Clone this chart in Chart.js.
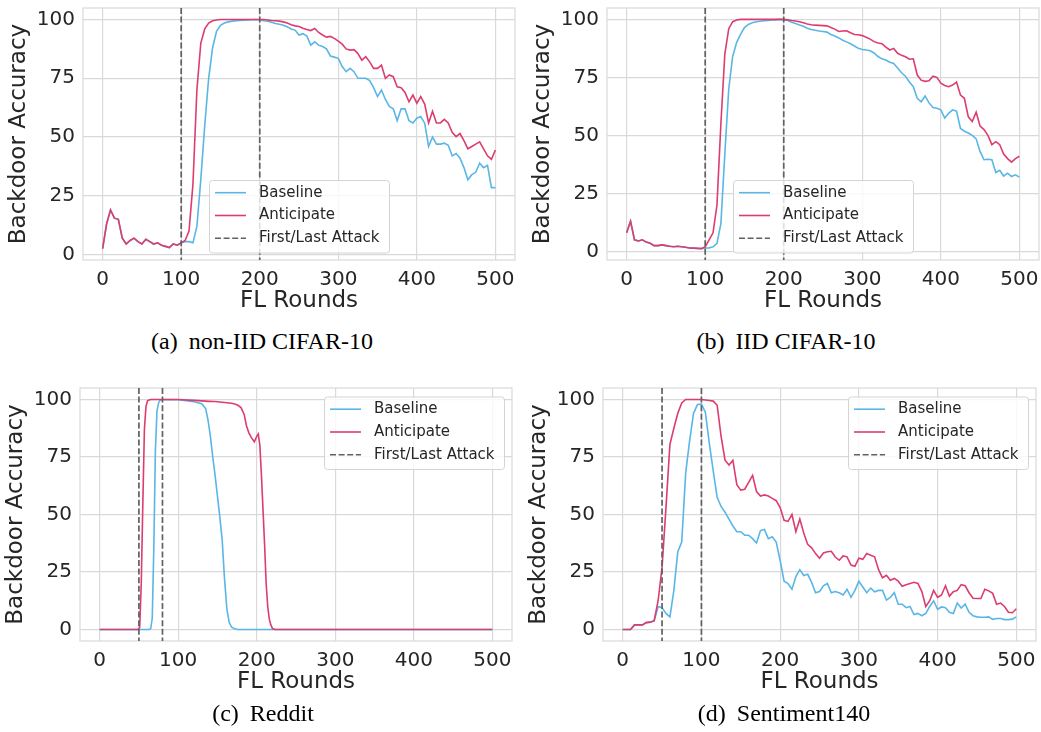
<!DOCTYPE html>
<html>
<head>
<meta charset="utf-8">
<script src="https://cdn.jsdelivr.net/npm/chart.js@4.4.1/dist/chart.umd.min.js"></script>
<style>
  body { margin: 0; background: #fff; }
  #wrap { position: relative; width: 1041px; height: 732px; }
  canvas { position: absolute; }
  .cap { position: absolute; width: 520px; text-align: center; font-family: 'Liberation Serif', serif;
         font-size: 24px; line-height: 24px; color: #000; }
  .cap span { margin-left: 11px; }
</style>
</head>
<body>
<div id="wrap">
  <canvas id="chartA" width="520" height="320" style="left:0;top:0;width:520px;height:320px"></canvas>
  <canvas id="chartB" width="521" height="320" style="left:520px;top:0;width:521px;height:320px"></canvas>
  <canvas id="chartC" width="520" height="331" style="left:0;top:370px;width:520px;height:331px"></canvas>
  <canvas id="chartD" width="521" height="331" style="left:520px;top:370px;width:521px;height:331px"></canvas>
  <div class="cap" style="left:2px;top:329px">(a)<span>non-IID CIFAR-10</span></div>
  <div class="cap" style="left:526px;top:329px">(b)<span>IID CIFAR-10</span></div>
  <div class="cap" style="left:3px;top:701px">(c)<span>Reddit</span></div>
  <div class="cap" style="left:524px;top:701px">(d)<span>Sentiment140</span></div>
</div>
<script>
// ---- data ----
var seriesNames = ['Baseline', 'Anticipate'];
var attackLabel = 'First/Last Attack';
var xTicks = [0, 100, 200, 300, 400, 500];
var yTicks = [0, 25, 50, 75, 100];

var rounds = [0, 5, 10, 15, 20, 25, 30, 35, 40, 45, 50, 55, 60, 65, 70, 75, 80, 85, 90, 95,
  100, 105, 110, 115, 120, 125, 130, 135, 140, 145, 150, 155, 160, 165, 170, 175, 180, 185, 190, 195,
  200, 205, 210, 215, 220, 225, 230, 235, 240, 245, 250, 255, 260, 265, 270, 275, 280, 285, 290, 295,
  300, 305, 310, 315, 320, 325, 330, 335, 340, 345, 350, 355, 360, 365, 370, 375, 380, 385, 390, 395,
  400, 405, 410, 415, 420, 425, 430, 435, 440, 445, 450, 455, 460, 465, 470, 475, 480, 485, 490, 495,
  500];

// (a) non-IID CIFAR-10
var nonIidBaseline = [2.5, 13, 19, 15.5, 15, 7, 4.5, 6, 7, 5.5, 4.5, 6.5, 5.5, 4.5, 5, 4, 3.5, 3, 4.5, 4,
  5, 5.5, 5.5, 5, 12, 32, 55, 75, 88, 95, 97.5, 98.5, 99, 99.3, 99.5, 99.6, 99.7, 99.8, 99.9, 100,
  99.8, 99.5, 99.3, 98.8, 98.3, 98, 97.6, 96.9, 96, 95.5, 93.4, 94, 93, 89.1, 90.5, 89.1, 88.5, 87.5, 84.5, 84,
  83.5, 80, 77.8, 79.2, 77.8, 75, 75, 75, 74, 71, 67.2, 70, 66, 63, 62, 57, 62, 62, 57, 56,
  58, 58.7, 55.9, 46, 50, 47, 47, 47.4, 46.5, 42, 43, 41, 37, 31.8, 34, 35, 38.9, 37, 38, 28.5,
  28.5];
var nonIidAnticipate = [2.5, 13, 19, 15.5, 15, 7, 4.5, 6, 7, 5.5, 4.5, 6.5, 5.5, 4.5, 5, 4, 3.5, 3, 4.5, 4,
  5, 6, 10, 30, 70, 90, 96, 98.5, 99.5, 99.8, 100, 100, 100, 100, 100, 100, 100, 100, 100, 100,
  100, 100, 99.8, 99.6, 99.5, 99.3, 99, 98.5, 97.8, 97.3, 97, 96.3, 95.8, 95.3, 96.2, 94.5, 93.4, 92.5, 92.8, 92,
  90.8, 89.5, 87.5, 87, 87.2, 85.5, 82.7, 84.2, 82, 79.2, 79.2, 80.6, 75, 76.4, 75.7, 71.4, 71, 69, 65, 67.9,
  64.4, 67.2, 64, 56, 61, 56, 56, 57.5, 56, 52, 50.2, 51.5, 48.5, 45, 46, 47, 48, 45, 42, 40.5,
  44.5];

// (b) IID CIFAR-10
var iidBaseline = [8, 13, 5, 4.5, 5, 4, 3.5, 2.5, 2.5, 2.8, 2.5, 2.2, 2, 2.2, 2, 1.8, 1.5, 1.4, 1.3, 1.2,
  1.5, 1.5, 2, 3.5, 12, 42, 70, 84, 90, 93.5, 96.5, 97.8, 98.5, 99, 99.2, 99.4, 99.5, 99.7, 99.8, 100,
  99.8, 99.5, 98.8, 98.2, 97.6, 97, 96.2, 95.6, 95.3, 95, 94.8, 94.5, 93.5, 92.8, 92, 91, 90.3, 89.5, 88.5, 87.5,
  87, 86.8, 86.5, 85.5, 84, 83, 82.5, 81.5, 81, 79, 77, 75.5, 73, 71, 66, 64.5, 67, 64, 62, 61.7,
  61, 57.5, 59.5, 61, 60.5, 53, 51.8, 51, 50, 48.5, 43, 39.5, 39.7, 39.5, 34, 35, 32.5, 33.7, 32.3, 33,
  32];
var iidAnticipate = [8, 13, 5, 4.5, 5, 4, 3.5, 2.5, 2.5, 2.8, 2.5, 2.2, 2, 2.2, 2, 1.8, 1.5, 1.4, 1.3, 1.2,
  2, 5, 8, 20, 55, 85, 96, 99, 99.7, 100, 100, 100, 100, 100, 100, 100, 100, 100, 100, 100,
  100, 99.8, 99.5, 99.3, 99, 98.5, 98, 97.7, 97.5, 97.4, 97.3, 97.2, 96.5, 95.8, 94.8, 95, 95.1, 94.2, 93.5, 93.4,
  93, 92.3, 91.5, 90.4, 89.8, 89.5, 88, 86.8, 87.5, 85.4, 84.5, 83.9, 82.8, 83, 76, 73.8, 73.3, 73.5, 75.5, 75,
  72.5, 71.5, 71, 71.7, 73, 67.4, 66, 58, 56, 60, 54, 52.5, 50, 46, 47.3, 46, 42, 40, 38.5, 40,
  41];

// (c) Reddit
var redditRounds = [0, 49, 51, 53, 55, 57, 59, 61, 63, 65, 67, 69, 71, 73, 75, 77, 80, 100, 120, 130,
  135, 138, 141, 144, 147, 150, 153, 156, 159, 162, 165, 168, 172, 176, 180, 184, 187, 190, 193, 197,
  200, 202, 204, 206, 208, 210, 212, 214, 216, 218, 220, 223, 300, 400, 500];
var redditBaseline = [0, 0, 0, 0, 0, 0, 0, 0, 0, 0.3, 5, 36, 78, 95, 98.5, 99.7, 100, 99.9, 99, 98.2,
  96, 91, 84, 75, 67, 58, 49, 39, 22, 9, 3, 1, 0.3, 0, 0, 0, 0, 0, 0, 0,
  0, 0, 0, 0, 0, 0, 0, 0, 0, 0, 0, 0, 0, 0, 0];
var redditAnticipate = [0, 0, 1, 20, 55, 87, 97, 99.4, 99.8, 100, 100, 100, 100, 100, 100, 100, 100, 100, 99.6, 99.4,
  99.3, 99.2, 99.2, 99.1, 99.1, 99, 98.9, 98.8, 98.7, 98.6, 98.5, 98.4, 98, 97.5, 96.5, 93.5, 88.5, 85.5, 83.5, 81.6,
  84, 85, 80, 67, 52, 37, 20, 10, 4.5, 2, 0.5, 0, 0, 0, 0];

// (d) Sentiment140
var sentBaseline = [0, 0, 0, 2, 2, 2, 3, 3.2, 3.8, 10, 9.5, 7, 5.5, 17, 33.8, 38, 68, 82, 94, 97.8,
  98, 94.5, 81, 69, 57.5, 53.5, 51, 48, 45, 42.5, 42.5, 41, 41, 39.5, 37.6, 43, 43.5, 39.5, 40.3, 38,
  30, 21, 20, 17.5, 23, 26, 23.5, 24, 20.5, 16, 16.5, 19, 20, 16, 16.5, 16, 15, 17.5, 14, 17,
  21, 18.5, 16, 18, 16.4, 17, 17, 12.8, 14, 16, 11, 11, 9.5, 10, 6.5, 7, 6, 7, 10, 12.5,
  8.8, 9.8, 9.5, 7.5, 7, 11.5, 9.3, 11, 7.5, 6, 5.5, 5.3, 5.3, 5.5, 4.4, 4.8, 4.8, 4.3, 4.3, 4.5,
  5.5];
var sentAnticipate = [0, 0, 0, 2, 2, 2, 3, 3.2, 3.8, 12.5, 27, 53, 80.5, 87.5, 94, 98.5, 100, 100, 100, 100,
  100, 99.8, 99.6, 99.3, 97.5, 84, 73.6, 71.5, 73.5, 63, 60.6, 61, 64, 67, 60, 58, 58.5, 58, 57, 56,
  53, 47.5, 47, 50, 42.5, 48, 42, 37, 35.5, 33, 31, 33.3, 33.8, 34, 31.5, 30.1, 32, 31.6, 28, 27.5,
  31, 30.5, 33, 32.3, 31.6, 26, 22.5, 23.6, 21.4, 22.2, 21, 18.8, 19.5, 20, 20.5, 20, 16.5, 10, 12.5, 17,
  14, 15, 19, 14.5, 16.4, 17, 19.5, 19, 16, 13.6, 13.5, 13.5, 17.5, 16.8, 15.7, 11, 11.5, 10, 7.5, 7.3,
  9];

// ---- style ----
var baseColor = '#5ab6e6',
    antiColor = '#dc3d6d',
    attackColor = '#616161',
    textColor = '#262626',
    gridColor = '#d9d9d9',
    attackDash = [6, 2.6];

Chart.defaults.font.family = "'DejaVu Sans', sans-serif";
Chart.defaults.color = textColor;

// frame + dashed first/last attack lines
var attackLines = {
    id: 'attacks',
    beforeDatasetsDraw: function (chart) {
        var ctx = chart.ctx, a = chart.chartArea;
        ctx.save();
        ctx.strokeStyle = gridColor;
        ctx.lineWidth = 1.2;
        ctx.strokeRect(a.left, a.top, a.right - a.left, a.bottom - a.top);
        ctx.restore();
    },
    afterDatasetsDraw: function (chart, args, opts) {
        var ctx = chart.ctx, a = chart.chartArea, x = chart.scales.x;
        ctx.save();
        ctx.strokeStyle = attackColor;
        ctx.lineWidth = 1.7;
        ctx.setLineDash(attackDash);
        opts.rounds.forEach(function (r) {
            var px = x.getPixelForValue(r);
            ctx.beginPath();
            ctx.moveTo(px, a.top);
            ctx.lineTo(px, a.bottom);
            ctx.stroke();
        });
        ctx.restore();
    }
};

// matplotlib-like legend box
var boxLegend = {
    id: 'boxLegend',
    afterDraw: function (chart, args, opts) {
        var ctx = chart.ctx, a = chart.chartArea,
            w = 180, h = 72.5, left, top;
        if (opts.loc === 'upper right') {
            left = a.right - 8 - w;
            top = a.top + 8.5;
        } else {
            left = (a.left + a.right) / 2 - w / 2;
            top = a.bottom - 7.5 - h;
        }
        ctx.save();
        ctx.beginPath();
        ctx.roundRect(left + 0.5, top + 0.5, w, h, 3);
        ctx.fillStyle = 'rgba(255,255,255,0.8)';
        ctx.fill();
        ctx.strokeStyle = '#d4d4d4';
        ctx.lineWidth = 1;
        ctx.stroke();

        var items = chart.data.datasets.map(function (d) { return {text: d.label, color: d.borderColor, dash: []}; });
        items.push({text: attackLabel, color: attackColor, dash: attackDash});
        ctx.font = "15px 'DejaVu Sans'";
        ctx.textBaseline = 'middle';
        items.forEach(function (it, i) {
            var y = top + 12.7 + i * 22.8;
            ctx.strokeStyle = it.color;
            ctx.lineWidth = 1.6;
            ctx.setLineDash(it.dash);
            ctx.beginPath();
            ctx.moveTo(left + 6, y);
            ctx.lineTo(left + 37, y);
            ctx.stroke();
            ctx.fillStyle = textColor;
            ctx.fillText(it.text, left + 50, y);
        });
        ctx.restore();
    }
};

function drawPanel(id, xs, base, anti, cfg) {
    var pts = function (vals) {
        return xs.map(function (r, i) { return {x: r, y: vals[i]}; });
    };
    return new Chart(document.getElementById(id), {
        type: 'line',
        data: {
            datasets: [
                {label: seriesNames[0], data: pts(base), borderColor: baseColor, order: 2},
                {label: seriesNames[1], data: pts(anti), borderColor: antiColor, order: 1}
            ]
        },
        options: {
            responsive: false,
            animation: false,
            events: [],
            layout: {autoPadding: false, padding: {left: cfg.pad[0], top: cfg.pad[1], right: cfg.pad[2], bottom: 0}},
            elements: {point: {radius: 0}, line: {borderWidth: 1.6, tension: 0, fill: false}},
            plugins: {
                legend: {display: false},
                tooltip: {enabled: false},
                attacks: {rounds: cfg.attacks},
                boxLegend: {loc: cfg.loc}
            },
            scales: {
                x: {
                    type: 'linear', min: -25, max: 525,
                    afterBuildTicks: function (s) { s.ticks = xTicks.map(function (v) { return {value: v}; }); },
                    afterFit: function (s) { s.height = 60; s.paddingLeft = 0; s.paddingRight = 0; },
                    grid: {color: gridColor, lineWidth: 1.2, drawTicks: false},
                    border: {display: false},
                    ticks: {font: {size: 20}, padding: 8, maxRotation: 0, autoSkip: false},
                    title: {display: true, text: 'FL Rounds', font: {size: 23, lineHeight: 1}, padding: {top: 0, bottom: 7}}
                },
                y: {
                    min: cfg.y[0], max: cfg.y[1],
                    afterBuildTicks: function (s) { s.ticks = yTicks.map(function (v) { return {value: v}; }); },
                    afterFit: function (s) { s.width = 75; s.paddingTop = 0; s.paddingBottom = 0; },
                    grid: {color: gridColor, lineWidth: 1.2, drawTicks: false},
                    border: {display: false},
                    ticks: {font: {size: 20}, padding: 8, autoSkip: false},
                    title: {display: true, text: 'Backdoor Accuracy', font: {size: 23, lineHeight: 1}, padding: {top: 0, bottom: 0}}
                }
            }
        },
        plugins: [attackLines, boxLegend]
    });
}

drawPanel('chartA', rounds, nonIidBaseline, nonIidAnticipate,
    {attacks: [100, 200], y: [-2.3, 104.9], loc: 'lower center', pad: [8, 8, 5]});
drawPanel('chartB', rounds, iidBaseline, iidAnticipate,
    {attacks: [100, 200], y: [-3.7, 104.9], loc: 'lower center', pad: [12, 8, 2]});
drawPanel('chartC', redditRounds, redditBaseline, redditAnticipate,
    {attacks: [50, 80], y: [-5, 105], loc: 'upper right', pad: [5, 18, 8]});
drawPanel('chartD', rounds, sentBaseline, sentAnticipate,
    {attacks: [50, 100], y: [-5, 105], loc: 'upper right', pad: [8, 18, 5]});
</script>
</body>
</html>
